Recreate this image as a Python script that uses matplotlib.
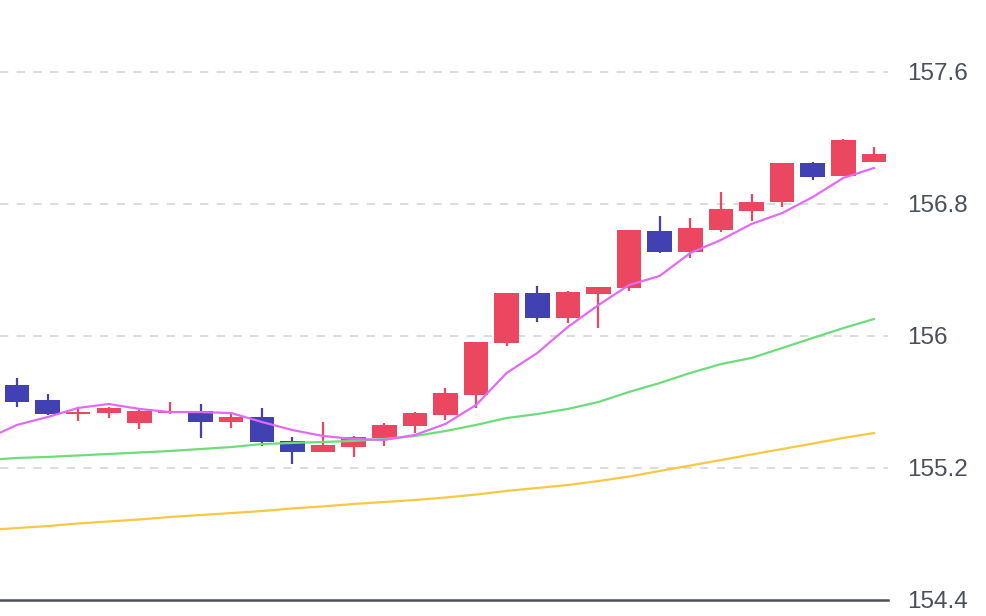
# coding=utf8
import numpy as np
import matplotlib
matplotlib.use('Agg')
import matplotlib.pyplot as plt

# K线数据 (开, 高, 低, 收)
opens  = [155.703, 155.612, 155.527, 155.533, 155.473, 155.533, 155.545, 155.479, 155.509, 155.364,
          155.297, 155.327, 155.382, 155.455, 155.521, 155.642, 155.958, 156.261, 156.109, 156.255,
          156.291, 156.636, 156.509, 156.642, 156.758, 156.812, 157.048, 156.970, 157.055]
highs  = [155.745, 155.648, 155.570, 155.570, 155.564, 155.600, 155.588, 155.539, 155.564, 155.388,
          155.479, 155.394, 155.473, 155.539, 155.685, 155.964, 156.261, 156.303, 156.273, 156.297,
          156.642, 156.727, 156.715, 156.873, 156.861, 157.048, 157.055, 157.194, 157.145]
lows   = [155.570, 155.521, 155.485, 155.503, 155.436, 155.527, 155.382, 155.442, 155.333, 155.224,
          155.297, 155.267, 155.333, 155.412, 155.491, 155.564, 155.939, 156.085, 156.079, 156.048,
          156.273, 156.503, 156.473, 156.630, 156.697, 156.782, 156.945, 156.970, 157.055]
closes = [155.600, 155.527, 155.539, 155.564, 155.545, 155.545, 155.479, 155.509, 155.358, 155.297,
          155.339, 155.388, 155.461, 155.533, 155.655, 155.964, 156.261, 156.109, 156.267, 156.297,
          156.642, 156.509, 156.655, 156.770, 156.812, 157.048, 156.964, 157.188, 157.103]

# 均线 (从前一根K线开始, 画面左侧外)
ma5  = [155.376, 155.461, 155.509, 155.564, 155.588, 155.558, 155.539, 155.539, 155.533, 155.479,
        155.430, 155.394, 155.376, 155.370, 155.400, 155.467, 155.582, 155.776, 155.897, 156.055,
        156.188, 156.309, 156.364, 156.503, 156.582, 156.679, 156.745, 156.842, 156.958, 157.018]
ma20 = [155.248, 155.261, 155.267, 155.276, 155.285, 155.294, 155.303, 155.315, 155.327, 155.345,
        155.352, 155.358, 155.364, 155.376, 155.394, 155.424, 155.461, 155.503, 155.527, 155.558,
        155.600, 155.661, 155.715, 155.776, 155.830, 155.867, 155.927, 155.988, 156.048, 156.103]
ma60 = [154.824, 154.836, 154.848, 154.864, 154.876, 154.888, 154.903, 154.915, 154.927, 154.939,
        154.955, 154.967, 154.982, 154.994, 155.006, 155.021, 155.039, 155.061, 155.079, 155.097,
        155.121, 155.148, 155.182, 155.215, 155.248, 155.282, 155.315, 155.348, 155.382, 155.412]

# 坐标轴刻度
yticks = [154.4, 155.2, 156.0, 156.8, 157.6]
ytick_labels = ['154.4', '155.2', '156', '156.8', '157.6']
xtick_pos = [6, 18]
xtick_labels = ['9:00', '21:00']

UP_COLOR = '#ec4760'
DOWN_COLOR = '#4141b3'
TEXT_COLOR = '#4b5058'

plt.rcParams['font.family'] = ['Liberation Sans', 'DejaVu Sans']

'''画K线图'''
def draw_candles(ax):
    x = np.arange(len(opens))
    o = np.array(opens)
    c = np.array(closes)
    colors = [UP_COLOR if cc >= oo else DOWN_COLOR for oo, cc in zip(o, c)]
    # 影线
    ax.vlines(x, lows, highs, colors=colors, linewidth=1.6, zorder=2)
    # 实体
    bottom = np.minimum(o, c)
    height = np.maximum(np.abs(c - o), 0.012)
    ax.bar(x, height, bottom=bottom, width=0.8, color=colors, edgecolor='none', zorder=3)

'''画均线'''
def draw_ma(ax):
    xm = np.arange(-1, len(ma5) - 1)
    ax.plot(xm, ma60, color='#f7c843', linewidth=1.6, zorder=4)
    ax.plot(xm, ma20, color='#6ddd7c', linewidth=1.6, zorder=4)
    ax.plot(xm, ma5, color='#e36af5', linewidth=1.6, zorder=4)


if __name__ == '__main__':
    fig = plt.figure(figsize=(9.86, 6.16), dpi=100)
    ax = fig.add_axes([0, 16 / 616, 888 / 986, 600 / 616])

    draw_candles(ax)
    draw_ma(ax)

    ax.set_xlim(-0.556, 28.46)
    ax.set_ylim(154.4, 157.6 + 72 / 165)

    # 网格和坐标轴
    for y in yticks[1:]:
        ax.axhline(y, color='#d6d6d6', linewidth=1.2, linestyle=(0, (5, 5)), zorder=1)
    for s in ['top', 'left', 'right']:
        ax.spines[s].set_visible(False)
    ax.spines['bottom'].set_color(TEXT_COLOR)
    ax.spines['bottom'].set_linewidth(1.8)

    ax.yaxis.tick_right()
    ax.set_yticks(yticks)
    ax.set_yticklabels(ytick_labels)
    ax.tick_params(axis='y', length=0, pad=14, labelsize=17.5, labelcolor=TEXT_COLOR)
    ax.set_xticks(xtick_pos)
    ax.set_xticklabels(xtick_labels)
    ax.tick_params(axis='x', length=0, pad=12, labelsize=17.5, labelcolor=TEXT_COLOR)

    plt.savefig('out.png', dpi=100)
